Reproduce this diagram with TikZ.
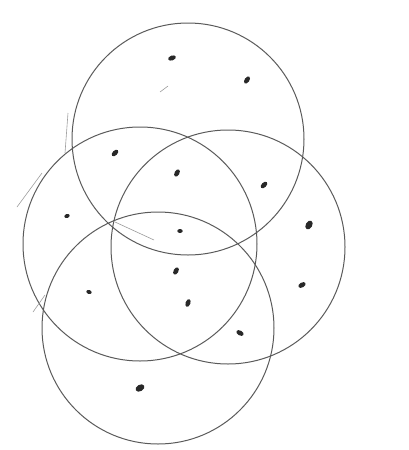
\documentclass[tikz,border=0pt]{standalone}
\usepackage{tikz}
\usetikzlibrary{shapes.geometric}
\definecolor{pencil}{RGB}{90,90,90}
\definecolor{lead}{RGB}{40,40,40}
\tikzset{
  set ring/.style={
    circle,
    draw=pencil,
    line width=1pt,
    minimum size=232pt,
    inner sep=0pt
  },
  point mark/.style={
    ellipse,
    fill=lead,
    minimum width=8pt,
    minimum height=4.8pt,
    inner sep=0pt
  },
  big mark/.style={
    point mark,
    minimum width=9.5pt,
    minimum height=6.5pt
  },
  small mark/.style={
    point mark,
    minimum width=5.5pt,
    minimum height=4pt
  },
  scribble/.style={
    draw=pencil!60,
    line width=0.6pt
  }
}
\begin{document}
\begin{tikzpicture}[x=1pt, y=-1pt]
  \useasboundingbox (0,0) rectangle (409,450);

  % The four sets
  \node[set ring] (top) at (188,139) {};
  \node[set ring, minimum size=234pt] (left) at (140,244) {};
  \node[set ring, minimum size=234pt] (right) at (228,247) {};
  \node[set ring] (bottom) at (158,328) {};

  % Points
  \node[point mark, rotate=20] (p1) at (172,58) {};
  \node[point mark, rotate=55] (p2) at (247,80) {};
  \node[point mark, rotate=45] (p3) at (115,153) {};
  \node[point mark, rotate=60] (p4) at (177,173) {};
  \node[point mark, rotate=45] (p5) at (264,185) {};
  \node[small mark, rotate=20] (p6) at (67,216) {};
  \node[small mark] (p7) at (180,231) {};
  \node[big mark, rotate=60] (p8) at (309,225) {};
  \node[point mark, rotate=60] (p9) at (176,271) {};
  \node[point mark, rotate=30] (p10) at (302,285) {};
  \node[small mark, rotate=-20] (p11) at (89,292) {};
  \node[point mark, rotate=70] (p12) at (188,303) {};
  \node[point mark, rotate=-30] (p13) at (240,333) {};
  \node[big mark, rotate=30] (p14) at (140,388) {};

  % Stray pencil strokes
  \coordinate (s1) at (68,113);
  \coordinate (s2) at (65,153);
  \coordinate (s3) at (17,207);
  \coordinate (s4) at (42,173);
  \coordinate (s5) at (115,222);
  \coordinate (s6) at (154,240);
  \coordinate (s7) at (33,312);
  \coordinate (s8) at (45,295);
  \coordinate (s9) at (160,92);
  \coordinate (s10) at (168,86);
  \draw[scribble] (s1) -- (s2);
  \draw[scribble] (s3) -- (s4);
  \draw[scribble] (s5) -- (s6);
  \draw[scribble] (s7) -- (s8);
  \draw[scribble] (s9) -- (s10);

\end{tikzpicture}
\end{document}
